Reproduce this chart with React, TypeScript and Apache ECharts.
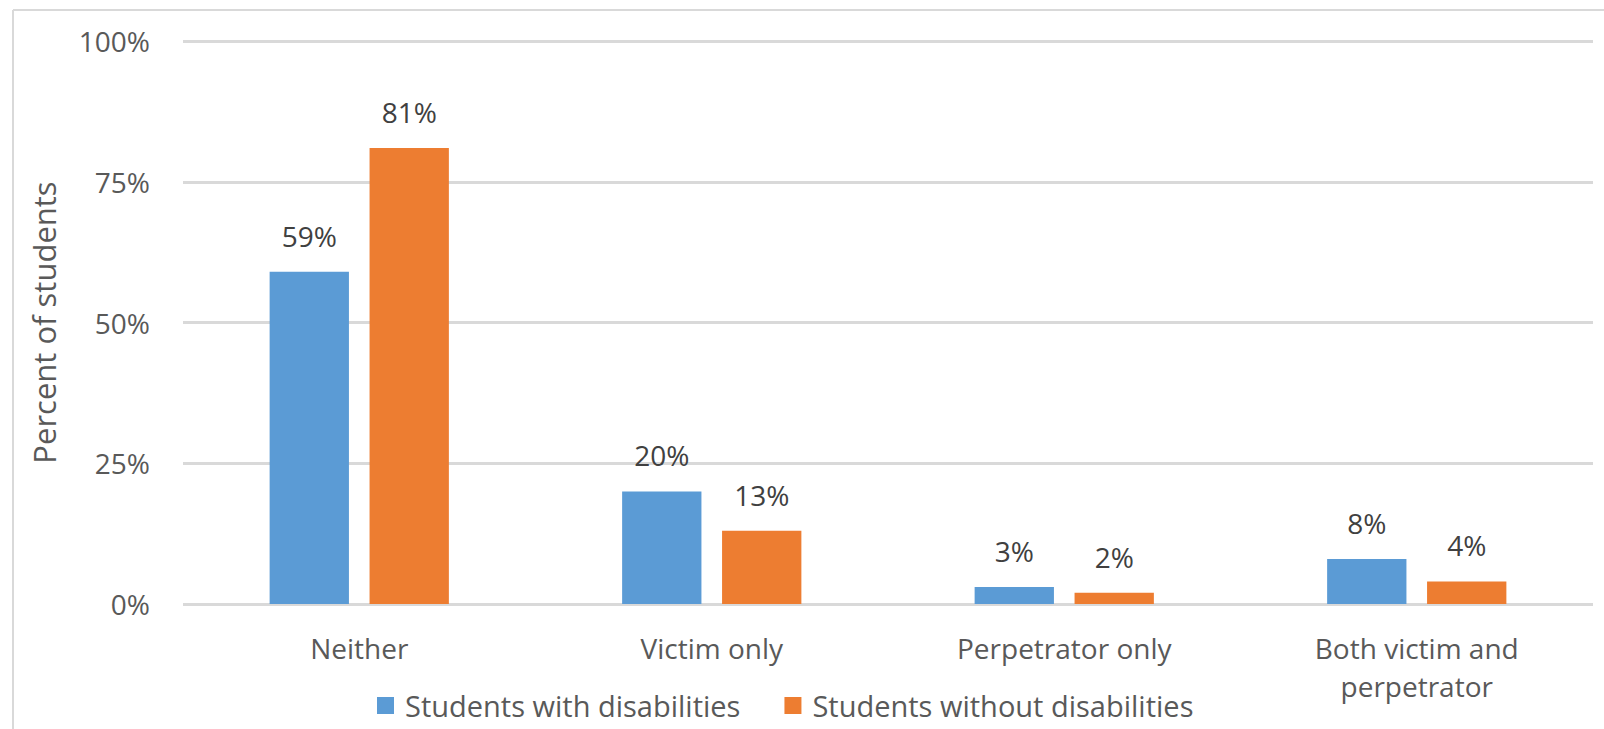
import React, { useEffect, useRef } from "react";
import * as echarts from "echarts";

const categories = ["Neither", "Victim only", "Perpetrator only", "Both victim and\nperpetrator"];
const withDisabilities = [59, 20, 3, 8];
const withoutDisabilities = [81, 13, 2, 4];
const seriesNames = ["Students with disabilities", "Students without disabilities"];
const yTicks = [0, 25, 50, 75, 100];

const FONT = "'Open Sans', sans-serif";
const AXIS_GRAY = "#595959";
const FS = 28;

export default function App() {
  const ref = useRef<HTMLDivElement>(null);

  useEffect(() => {
    document.body.style.margin = "0";
    const chart = echarts.init(ref.current!, null, { renderer: "svg" });
    const labelStyle = {
      show: true,
      position: "top" as const,
      distance: 22,
      fontFamily: FONT,
      fontSize: FS,
      color: "#404040",
      formatter: (p: any) => `${p.value}%`,
    };
    chart.setOption({
      animation: false,
      backgroundColor: "#ffffff",
      textStyle: { fontFamily: FONT },
      grid: { left: 183, right: 11, top: 41, bottom: 125 },
      legend: {
        data: seriesNames,
        left: 377,
        top: 691,
        padding: 0,
        itemWidth: 17,
        itemHeight: 17,
        itemGap: 44,
        icon: "rect",
        textStyle: { fontFamily: FONT, fontSize: 29, color: AXIS_GRAY, padding: [0, 0, 0, 6] },
      },
      xAxis: {
        type: "category",
        data: categories,
        axisLine: { show: false },
        axisTick: { show: false },
        axisLabel: {
          fontFamily: FONT,
          fontSize: FS,
          color: AXIS_GRAY,
          lineHeight: 38,
          margin: 25,
          interval: 0,
        },
      },
      yAxis: {
        type: "value",
        min: yTicks[0],
        max: yTicks[yTicks.length - 1],
        interval: 25,
        name: "Percent of students",
        nameLocation: "middle",
        nameGap: 124,
        nameTextStyle: { fontFamily: FONT, fontSize: 31, color: AXIS_GRAY },
        axisLine: { show: false },
        axisTick: { show: false },
        axisLabel: {
          fontFamily: FONT,
          fontSize: FS,
          color: AXIS_GRAY,
          margin: 33,
          formatter: (v: number) => `${v}%`,
        },
        splitLine: { lineStyle: { color: "#d9d9d9", width: 3 } },
      },
      series: [
        {
          name: seriesNames[0],
          type: "bar",
          data: withDisabilities,
          barWidth: "22.5%",
          barGap: "26%",
          itemStyle: { color: "#5B9BD5" },
          label: labelStyle,
        },
        {
          name: seriesNames[1],
          type: "bar",
          data: withoutDisabilities,
          barWidth: "22.5%",
          barGap: "26%",
          itemStyle: { color: "#ED7D31" },
          label: labelStyle,
        },
      ],
      graphic: [
        {
          type: "line",
          shape: { x1: 13, y1: 10, x2: 1604, y2: 10 },
          style: { stroke: "#d9d9d9", lineWidth: 2 },
          silent: true,
        },
        {
          type: "line",
          shape: { x1: 13, y1: 10, x2: 13, y2: 729 },
          style: { stroke: "#d9d9d9", lineWidth: 2 },
          silent: true,
        },
      ],
    });
    return () => chart.dispose();
  }, []);

  return <div ref={ref} style={{ width: 1604, height: 729 }} />;
}
